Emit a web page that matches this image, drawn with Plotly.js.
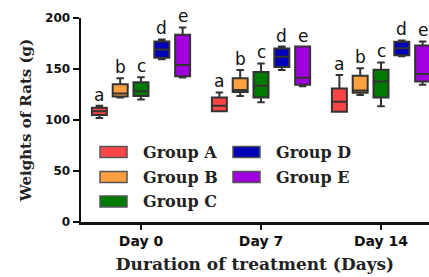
<!DOCTYPE html>
<html>
<head>
<meta charset="utf-8">
<script src="https://cdn.plot.ly/plotly-3.0.1.min.js"></script>
<style>html,body{margin:0;padding:0;background:#fff;}#chart{width:429px;height:277px;}</style>
</head>
<body>
<div id="chart"></div>
<script>
// ---- data ----
const days = ['Day 0', 'Day 7', 'Day 14'];
const groups = ['Group A', 'Group B', 'Group C', 'Group D', 'Group E'];
const colors = ['#FF4444', '#FFA040', '#007A00', '#0000BB', '#A000E0'];
const sigLetters = ['a', 'b', 'c', 'd', 'e'];
// per group: values for Day 0, Day 7, Day 14
const lowerFence = [[102, 108.7, 108], [122, 123.6, 124.6], [120, 117.4, 113.6], [159.5, 149, 162.6], [141.7, 133, 134.6]];
const q1 = [[105, 108.7, 108], [123, 127.4, 126.7], [123.6, 122, 122], [161, 152, 163.6], [143, 134.6, 137.7]];
const median = [[108.5, 114, 118], [126, 129.5, 129], [128.3, 133.6, 137.7], [169, 162, 170.4], [154, 141.4, 145]];
const q3 = [[112, 122, 131], [135, 141, 143.3], [137, 147, 149.2], [177, 170, 176.6], [183.5, 172, 173]];
const upperFence = [[114, 127, 144], [141, 149, 150.7], [142, 155.4, 156.4], [179, 172, 178], [190.7, 172, 177]];

const boxgap = 0.133, boxgroupgap = 0.28;
const traces = groups.map((g, i) => ({
  type: 'box', name: g, x: days,
  q1: q1[i], median: median[i], q3: q3[i],
  lowerfence: lowerFence[i], upperfence: upperFence[i],
  fillcolor: colors[i], line: {color: '#333333', width: 2},
  whiskerwidth: 0.5, showlegend: false, hoverinfo: 'skip'
}));

// significance letters above each box
const annotations = [];
const n = groups.length;
groups.forEach((g, i) => {
  const off = (1 - boxgap) * (-0.5 + (i + 0.5) / n);
  days.forEach((d, j) => {
    annotations.push({x: j + off, y: upperFence[i][j], xref: 'x', yref: 'y', text: sigLetters[i],
      showarrow: false, yanchor: 'bottom', yshift: -1,
      font: {family: 'DejaVu Sans', size: 17, color: '#111'}});
  });
});

// manual two-column legend (pixel layout -> paper coords)
const L = 81, R = 429, T = 18, B = 222;
const px = v => (v - L) / (R - L), py = v => (B - v) / (B - T);
const legendPos = [[100, 152], [100, 177], [100, 201.5], [233, 152], [233, 177]];
const shapes = [];
groups.forEach((g, i) => {
  const [lx, ly] = legendPos[i];
  shapes.push({type: 'rect', xref: 'paper', yref: 'paper', x0: px(lx), x1: px(lx + 27), y0: py(ly + 5.5), y1: py(ly - 5.5),
    fillcolor: colors[i], line: {color: '#555', width: 1.5}});
  annotations.push({xref: 'paper', yref: 'paper', x: px(lx + 41), y: py(ly), xanchor: 'left', yanchor: 'middle',
    text: g, showarrow: false, font: {family: 'DejaVu Serif', size: 16, color: '#222', weight: 'bold'}});
});

const layout = {
  width: 429, height: 277,
  margin: {l: L, r: 429 - R, t: T, b: 277 - B},
  paper_bgcolor: '#fff', plot_bgcolor: '#fff',
  boxmode: 'group', boxgap: boxgap, boxgroupgap: boxgroupgap,
  xaxis: {type: 'category', range: [-0.5, 2.4], showgrid: false, zeroline: false,
    showline: true, linecolor: '#111', linewidth: 2.5,
    ticks: 'outside', ticklen: 5, tickwidth: 2, tickcolor: '#111',
    tickfont: {family: 'DejaVu Sans', size: 14, color: '#111', weight: 'bold'},
    title: {text: 'Duration of treatment (Days)', standoff: 10,
      font: {family: 'DejaVu Serif', size: 17, color: '#222', weight: 'bold'}}},
  yaxis: {range: [0, 200], tickvals: [0, 50, 100, 150, 200], showgrid: false, zeroline: false,
    showline: true, linecolor: '#111', linewidth: 2.5,
    ticks: 'outside', ticklen: 6, tickwidth: 2, tickcolor: '#111',
    tickfont: {family: 'DejaVu Sans', size: 12, color: '#111', weight: 'bold'},
    title: {text: 'Weights of Rats (g)', standoff: 10,
      font: {family: 'DejaVu Serif', size: 15, color: '#222', weight: 'bold'}}},
  annotations: annotations, shapes: shapes, showlegend: false
};
Plotly.newPlot('chart', traces, layout, {displayModeBar: false, staticPlot: true});
</script>
</body>
</html>
